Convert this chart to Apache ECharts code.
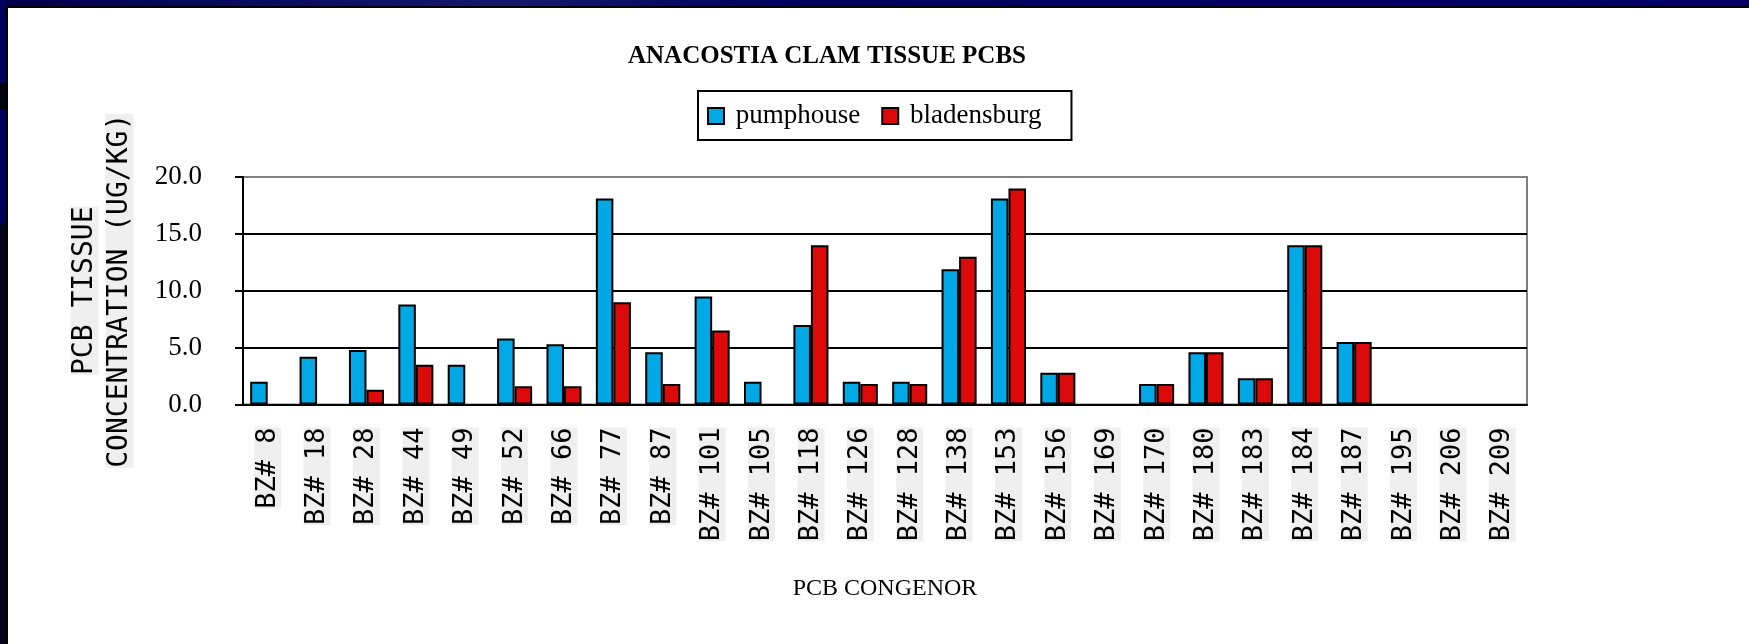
<!DOCTYPE html>
<html>
<head>
<meta charset="utf-8">
<title>ANACOSTIA CLAM TISSUE PCBS</title>
<script src="https://cdn.jsdelivr.net/npm/echarts@6/dist/echarts.min.js"></script>
<style>
  html, body { margin: 0; padding: 0; background: #ffffff; }
  #chart { width: 1749px; height: 644px; }
</style>
</head>
<body>
<div id="chart"></div>
<script>
// PCB congeners measured in clam tissue
const congeners = ['BZ# 8', 'BZ# 18', 'BZ# 28', 'BZ# 44', 'BZ# 49', 'BZ# 52', 'BZ# 66', 'BZ# 77',
  'BZ# 87', 'BZ# 101', 'BZ# 105', 'BZ# 118', 'BZ# 126', 'BZ# 128', 'BZ# 138', 'BZ# 153',
  'BZ# 156', 'BZ# 169', 'BZ# 170', 'BZ# 180', 'BZ# 183', 'BZ# 184', 'BZ# 187', 'BZ# 195',
  'BZ# 206', 'BZ# 209'];

// Tissue concentration (ug/kg) per station; null = not detected
const pumphouse = [2.0, 4.2, 4.8, 8.8, 3.5, 5.8, 5.3, 18.1, 4.6, 9.5, 2.0, 7.0, 2.0, 2.0,
  11.9, 18.1, 2.8, null, 1.8, 4.6, 2.3, 14.0, 5.5, null, null, null];
const bladensburg = [null, null, 1.3, 3.5, null, 1.6, 1.6, 9.0, 1.8, 6.5, null, 14.0, 1.8, 1.8,
  13.0, 19.0, 2.8, null, 1.8, 4.6, 2.3, 14.0, 5.5, null, null, null];

const yTicks = { min: 0, max: 20, interval: 5 };

const chart = echarts.init(document.getElementById('chart'), null, { renderer: 'canvas' });

const serif = '"Liberation Serif", "Times New Roman", serif';
const mono = '"DejaVu Sans Mono", monospace';

chart.setOption({
  backgroundColor: '#ffffff',
  animation: false,
  title: {
    text: 'ANACOSTIA CLAM TISSUE PCBS',
    left: 628,
    top: 44,
    padding: 0,
    textStyle: { fontFamily: serif, fontSize: 25, fontWeight: 'bold', color: '#000000' }
  },
  legend: {
    data: ['pumphouse', 'bladensburg'],
    left: 698,
    top: 91,
    padding: [10, 30, 9, 9],
    borderColor: '#000000',
    borderWidth: 2,
    itemWidth: 16,
    itemHeight: 16,
    itemGap: 21,
    icon: 'rect',
    formatter: ' {name}',
    textStyle: { fontFamily: serif, fontSize: 27, lineHeight: 30, color: '#000000' }
  },
  grid: {
    left: 243,
    right: 222,
    top: 177,
    bottom: 239.5,
    show: true,
    borderColor: '#808080',
    borderWidth: 2,
    backgroundColor: '#ffffff'
  },
  xAxis: {
    type: 'category',
    data: congeners,
    boundaryGap: true,
    name: 'PCB CONGENOR',
    nameLocation: 'middle',
    nameGap: 172,
    nameTextStyle: { fontFamily: serif, fontSize: 24, color: '#000000' },
    axisLine: { lineStyle: { color: '#000000', width: 2 } },
    axisTick: { alignWithLabel: false, length: 8, lineStyle: { color: '#000000', width: 2 } },
    axisLabel: {
      interval: 0,
      rotate: 90,
      margin: 23,
      fontFamily: mono,
      fontSize: 27,
      color: '#000000',
      backgroundColor: '#efefef'
    }
  },
  yAxis: {
    type: 'value',
    min: yTicks.min,
    max: yTicks.max,
    interval: yTicks.interval,
    name: '{a|PCB TISSUE}\n{a|CONCENTRATION (UG/KG)}',
    nameLocation: 'middle',
    nameRotate: 90,
    nameGap: 106,
    nameTextStyle: {
      rich: {
        a: { fontFamily: mono, fontSize: 28, lineHeight: 35, color: '#000000', backgroundColor: '#efefef' }
      }
    },
    axisLine: { show: true, lineStyle: { color: '#000000', width: 2 } },
    axisTick: { show: true, inside: false, length: 8, lineStyle: { color: '#000000', width: 2 } },
    axisLabel: {
      margin: 41,
      fontFamily: serif,
      fontSize: 27,
      color: '#000000',
      formatter: v => v.toFixed(1)
    },
    splitLine: {
      show: true,
      lineStyle: { color: ['#000000', '#000000', '#000000', '#000000', '#808080'], width: 2 }
    }
  },
  series: [
    {
      name: 'pumphouse',
      type: 'bar',
      data: pumphouse,
      barGap: '0%',
      barCategoryGap: '29%',
      itemStyle: { color: '#00A9E6', borderColor: '#000000', borderWidth: 2 }
    },
    {
      name: 'bladensburg',
      type: 'bar',
      data: bladensburg,
      barGap: '0%',
      barCategoryGap: '29%',
      itemStyle: { color: '#DC0A0A', borderColor: '#000000', borderWidth: 2 }
    }
  ],
  graphic: [
    // slide frame: navy band along the top and left edges, with a thin black rule inside
    { type: 'rect', z: 100, shape: { x: 0, y: 0, width: 1749, height: 6 },
      style: { fill: new echarts.graphic.LinearGradient(0, 0, 1, 0, [
        { offset: 0, color: '#00004e' }, { offset: 0.3, color: '#17176e' },
        { offset: 0.45, color: '#00005e' }, { offset: 1, color: '#000066' }]) } },
    { type: 'rect', z: 100, shape: { x: 0, y: 6, width: 1749, height: 2 }, style: { fill: '#000000' } },
    { type: 'rect', z: 100, shape: { x: 0, y: 0, width: 6, height: 83 }, style: { fill: '#00005a' } },
    { type: 'rect', z: 100, shape: { x: 0, y: 83, width: 6, height: 27 }, style: { fill: '#03030f' } },
    { type: 'rect', z: 100, shape: { x: 0, y: 110, width: 6, height: 113 }, style: { fill: '#00005a' } },
    { type: 'rect', z: 100, shape: { x: 0, y: 223, width: 6, height: 421 }, style: { fill: '#04041a' } },
    { type: 'rect', z: 100, shape: { x: 6, y: 6, width: 2, height: 638 }, style: { fill: '#000000' } }
  ]
});
</script>
</body>
</html>
